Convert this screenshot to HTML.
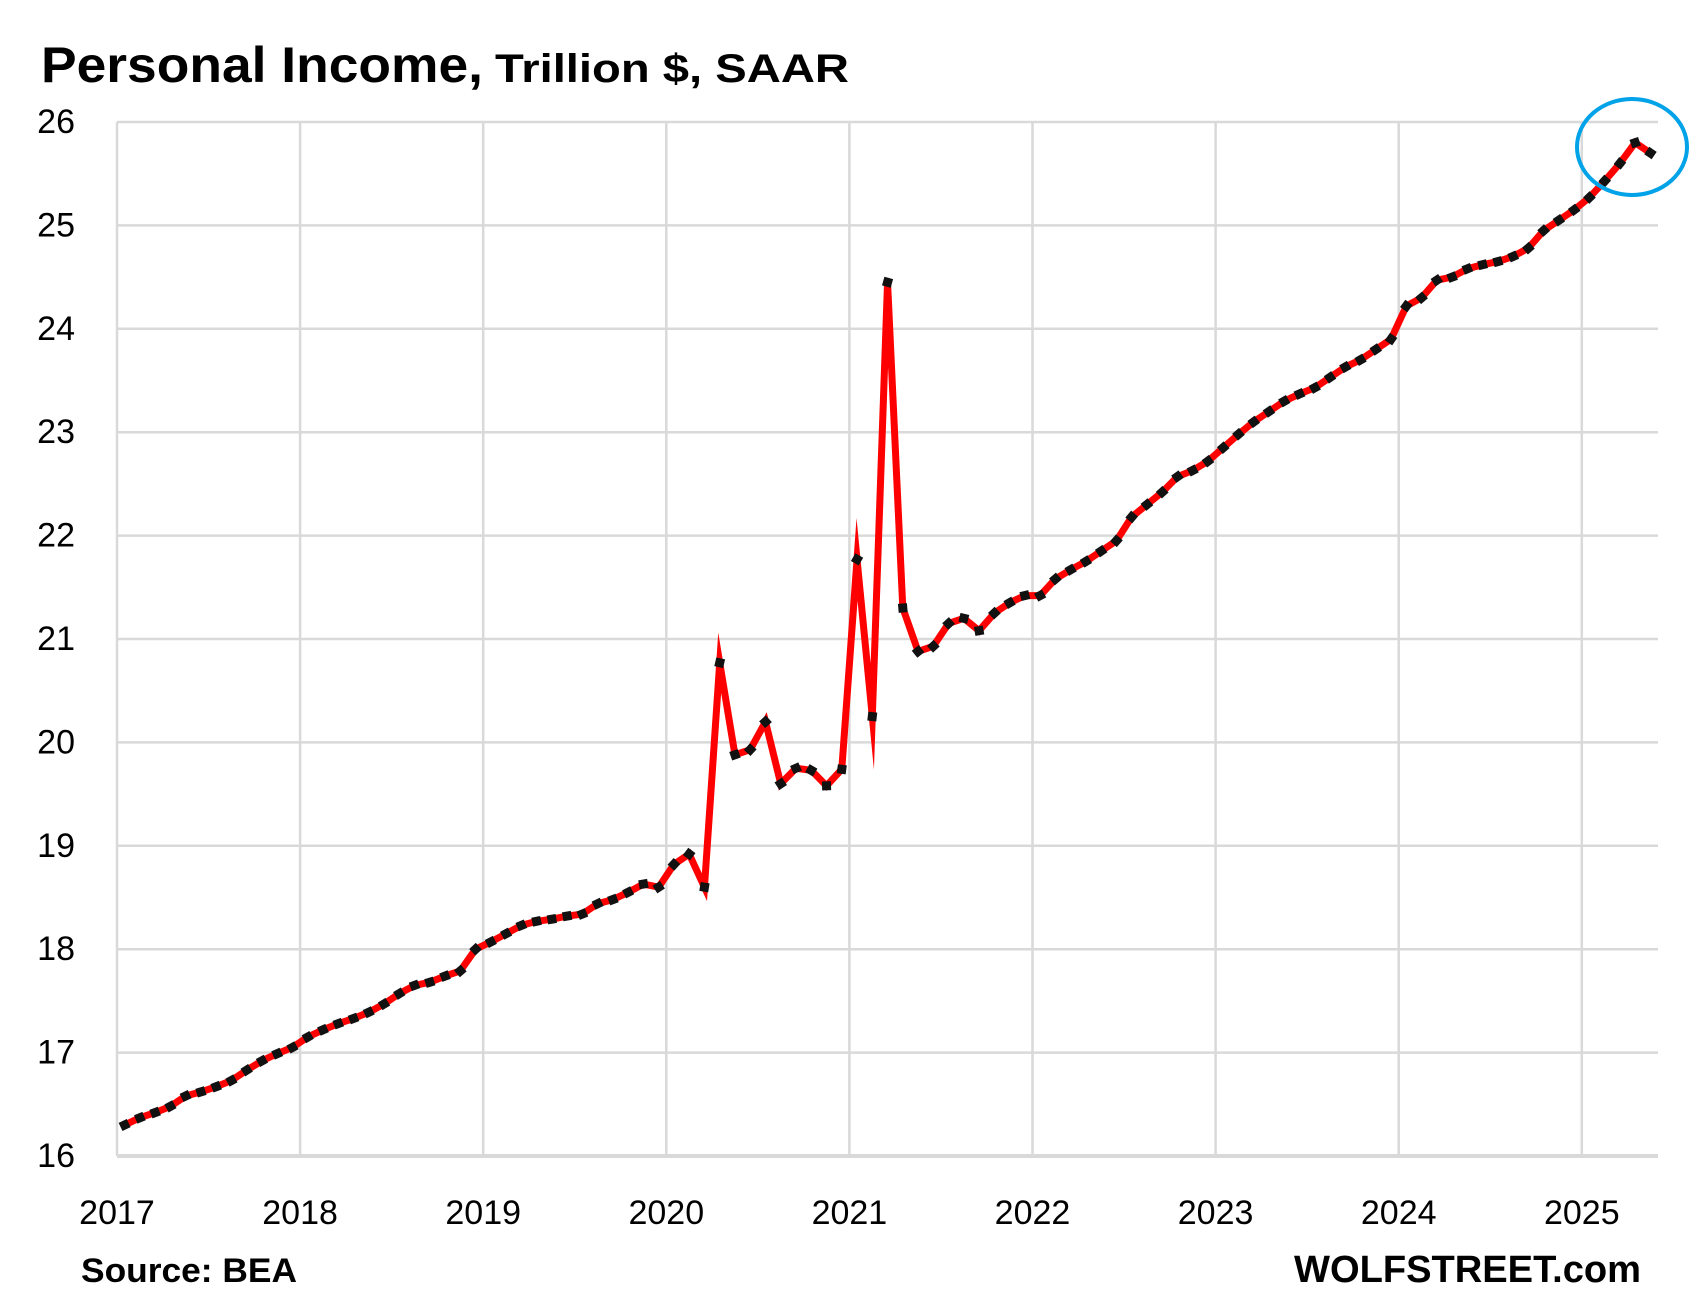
<!DOCTYPE html>
<html><head><meta charset="utf-8"><style>
html,body{margin:0;padding:0;background:#fff;}
svg{display:block;font-family:"Liberation Sans",sans-serif;}
</style></head><body>
<svg id="chart" width="1699" height="1309" viewBox="0 0 1699 1309" xmlns="http://www.w3.org/2000/svg">
<rect width="1699" height="1309" fill="#fff"/>
<text x="41" y="82" font-weight="bold" fill="#000"><tspan font-size="50" textLength="442" lengthAdjust="spacingAndGlyphs">Personal Income,</tspan><tspan font-size="40" dx="12" textLength="354" lengthAdjust="spacingAndGlyphs">Trillion $, SAAR</tspan></text>
<g id="grid"></g>
<g id="ylabels"></g>
<g id="xlabels"></g>
<g id="series"></g>
<ellipse cx="1632" cy="147" rx="55" ry="48" fill="none" stroke="#00a2e8" stroke-width="4"/>
<text x="81" y="1282" font-size="34" font-weight="bold" textLength="216" lengthAdjust="spacingAndGlyphs">Source: BEA</text>
<text x="1641" y="1282" font-size="38" font-weight="bold" text-anchor="end" textLength="347" lengthAdjust="spacingAndGlyphs">WOLFSTREET.com</text>
</svg>
<script>
const yTicks = [16,17,18,19,20,21,22,23,24,25,26];
const years = ["2017","2018","2019","2020","2021","2022","2023","2024","2025"];
const values = [
16.30,16.37,16.42,16.48,16.58,16.62,16.67,16.73,16.83,16.92,16.99,17.05,
17.15,17.22,17.28,17.33,17.39,17.47,17.57,17.65,17.68,17.74,17.79,18.00,
18.07,18.15,18.23,18.27,18.29,18.32,18.34,18.44,18.48,18.55,18.63,18.60,
18.82,18.92,18.60,20.77,19.88,19.93,20.20,19.60,19.75,19.73,19.58,19.74,
21.77,20.25,24.45,21.30,20.88,20.93,21.15,21.20,21.08,21.25,21.35,21.42,
21.42,21.58,21.67,21.75,21.85,21.95,22.18,22.30,22.42,22.57,22.63,22.72,
22.85,22.98,23.10,23.20,23.30,23.37,23.43,23.53,23.63,23.70,23.80,23.90,
24.22,24.30,24.47,24.50,24.58,24.62,24.65,24.70,24.78,24.95,25.05,25.15,
25.27,25.43,25.60,25.80,25.70];
const NS="http://www.w3.org/2000/svg";
const L=117,R=1658,T=122,B=1156,yr0=117,yrStep=183.1;
const yMin=16,yMax=26;
function yS(v){return B-(v-yMin)/(yMax-yMin)*(B-T);}
function xS(i){return yr0+(i+0.5)*yrStep/12;}
function mk(tag,attrs,parent){const e=document.createElementNS(NS,tag);for(const k in attrs)e.setAttribute(k,attrs[k]);parent.appendChild(e);return e;}
const grid=document.getElementById('grid'),yl=document.getElementById('ylabels'),xl=document.getElementById('xlabels'),ser=document.getElementById('series');
yTicks.forEach(t=>{
  const ln=mk('line',{x1:L,x2:R,y1:yS(t),y2:yS(t),stroke:'#d9d9d9','stroke-width':2.5},grid);
  
  
  const tx=mk('text',{x:75,y:yS(t)+11,'font-size':34,'text-anchor':'end',fill:'#000'},yl);
  tx.textContent=t;
  
  
});
years.forEach((y,i)=>{
  const x=yr0+i*yrStep;
  const ln=mk('line',{x1:x,x2:x,y1:T,y2:B,stroke:'#d9d9d9','stroke-width':2.5},grid);
  
  
  const tx=mk('text',{x:x,y:1224,'font-size':34,'text-anchor':'middle',fill:'#000'},xl);
  tx.textContent=y;
  
  
});
const ax=mk('line',{x1:L,x2:R,y1:B,y2:B,stroke:'#d9d9d9','stroke-width':4},grid);


const pts=values.map((v,i)=>[xS(i),yS(v)]);
const pl=mk('polyline',{points:pts.map(p=>p.join(',')).join(' '),fill:'none',stroke:'#ff0000','stroke-width':7,'stroke-linejoin':'miter','stroke-miterlimit':20},ser);


pts.forEach((p,i)=>{
  const a=pts[Math.max(0,i-1)],b=pts[Math.min(pts.length-1,i+1)];
  const ang=Math.atan2(b[1]-a[1],b[0]-a[0])*180/Math.PI;
  const r=mk('rect',{x:p[0]-4.5,y:p[1]-4.5,width:9,height:9,fill:'#111',transform:`rotate(${ang} ${p[0]} ${p[1]})`},ser);
  
  
});
</script>
</body></html>
